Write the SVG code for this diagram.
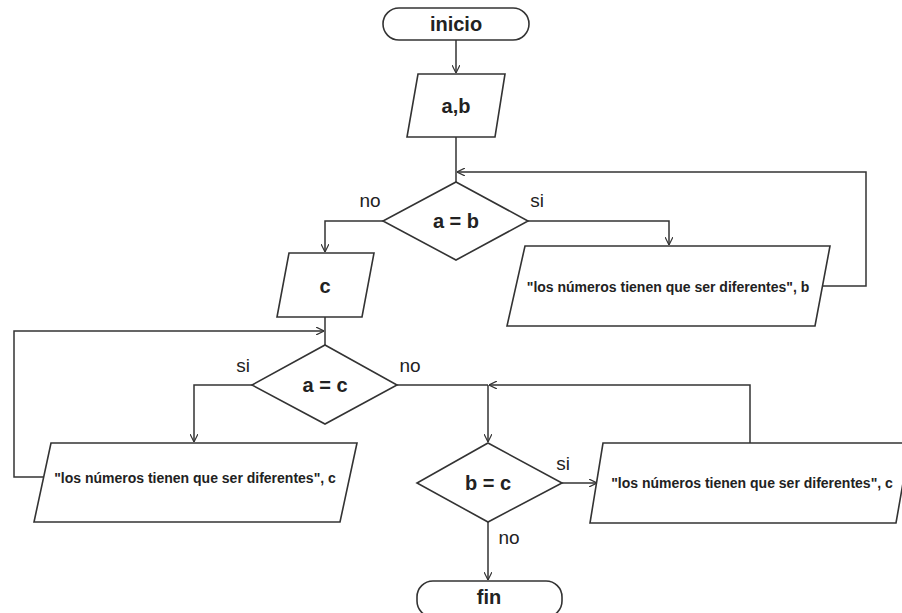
<svg xmlns="http://www.w3.org/2000/svg" width="902" height="613" viewBox="0 0 902 613">
<style>
.shape{fill:#fff;stroke:#333;stroke-width:1.6}
.line{fill:none;stroke:#333;stroke-width:1.5}
.t{font-family:"Liberation Sans",Arial,sans-serif;font-weight:bold;font-size:20px;fill:#222;text-anchor:middle;dominant-baseline:central}
.m{font-family:"Liberation Sans",Arial,sans-serif;font-weight:bold;font-size:14px;fill:#222;text-anchor:middle;dominant-baseline:central}
.l{font-family:"Liberation Sans",Arial,sans-serif;font-size:19px;fill:#222;text-anchor:middle;dominant-baseline:central}
</style>
<defs>
<marker id="arr" viewBox="0 0 10 10" refX="10" refY="5" markerWidth="8" markerHeight="8" markerUnits="userSpaceOnUse" orient="auto">
<path d="M0,0 L10,5 L0,10" fill="none" stroke="#333" stroke-width="1.5"/>
</marker>
</defs>
<rect width="902" height="613" fill="#fff"/>
<g id="connectors">
<path class="line" d="M456,40 V73" marker-end="url(#arr)"/>
<path class="line" d="M456,137 V182"/>
<path class="line" d="M822,286 H866 V172 H457" marker-end="url(#arr)"/>
<path class="line" d="M528,221 H669 V245" marker-end="url(#arr)"/>
<path class="line" d="M383,221 H325 V252" marker-end="url(#arr)"/>
<path class="line" d="M325,317 V345"/>
<path class="line" d="M43,477 H14 V331 H324" marker-end="url(#arr)"/>
<path class="line" d="M252,385 H194 V442" marker-end="url(#arr)"/>
<path class="line" d="M397,385 H488"/>
<path class="line" d="M750,443 V385 H489" marker-end="url(#arr)"/>
<path class="line" d="M488,385 V442" marker-end="url(#arr)"/>
<path class="line" d="M562,483 H597" marker-end="url(#arr)"/>
<path class="line" d="M488,522 V580" marker-end="url(#arr)"/>
</g>
<g id="labels">
<text class="l" x="370" y="200">no</text>
<text class="l" x="537" y="200">si</text>
<text class="l" x="243" y="365">si</text>
<text class="l" x="410" y="365">no</text>
<text class="l" x="563" y="463">si</text>
<text class="l" x="509" y="537">no</text>
</g>
<g id="inicio">
<rect class="shape" x="383" y="8" width="146" height="32" rx="16" ry="16"/>
<text class="t" x="456" y="24">inicio</text>
</g>
<g id="input_ab">
<polygon class="shape" points="418,74 505,74 495,137 407,137"/>
<text class="t" x="456" y="106">a,b</text>
</g>
<g id="dec_ab">
<polygon class="shape" points="456,182 528,221 456,260 383,221"/>
<text class="t" x="456" y="221">a = b</text>
</g>
<g id="out_b">
<polygon class="shape" points="525,246 830,246 815,326 507,326"/>
<text class="m" x="668" y="287">"los números tienen que ser diferentes", b</text>
</g>
<g id="input_c">
<polygon class="shape" points="289,253 374,253 362,317 277,317"/>
<text class="t" x="325" y="286">c</text>
</g>
<g id="dec_ac">
<polygon class="shape" points="325,345 397,385 325,424 252,385"/>
<text class="t" x="325" y="385">a = c</text>
</g>
<g id="out_c1">
<polygon class="shape" points="51,443 357,443 340,522 34,522"/>
<text class="m" x="195" y="478">"los números tienen que ser diferentes", c</text>
</g>
<g id="dec_bc">
<polygon class="shape" points="488,443 562,483 488,522 417,483"/>
<text class="t" x="488" y="483">b = c</text>
</g>
<g id="out_c2">
<polygon class="shape" points="603,443 910,443 896,523 590,523"/>
<text class="m" x="752" y="483">"los números tienen que ser diferentes", c</text>
</g>
<g id="fin">
<rect class="shape" x="417" y="581" width="145" height="36" rx="16" ry="16"/>
<text class="t" x="489" y="597">fin</text>
</g>
</svg>
